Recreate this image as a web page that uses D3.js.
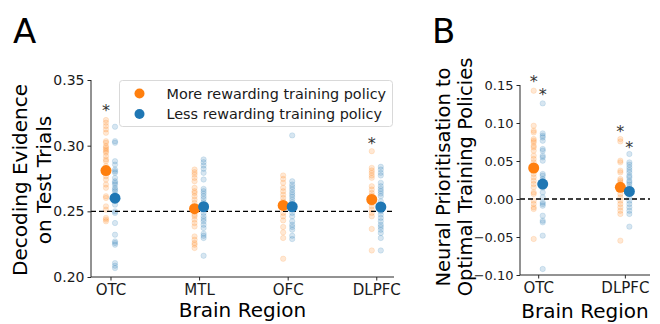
<!DOCTYPE html>
<html>
<head>
<meta charset="utf-8">
<script src="https://cdn.jsdelivr.net/npm/d3@7"></script>
<style>
    html, body { margin: 0; padding: 0; background: #fff; }
    svg { display: block; font-family: "DejaVu Sans", sans-serif; }
</style>
</head>
<body>
<svg id="chart" width="660" height="324"></svg>
<script>
(function (d3) {
    'use strict';

    // ---- panel A: decoding evidence ----
    var regionsA = ['OTC', 'MTL', 'OFC', 'DLPFC'];
    var ticksA   = [0.20, 0.25, 0.30, 0.35];
    var meanMoreA = [0.281, 0.252, 0.2545, 0.259];
    var meanLessA = [0.260, 0.2535, 0.2535, 0.2533];
    var subjMoreA = [
        [0.3195, 0.3175, 0.3149, 0.3124, 0.3098, 0.3034, 0.3022, 0.2996, 0.2984, 0.2971, 0.2958, 0.2946, 0.292, 0.2895,
         0.2882, 0.2844, 0.2767, 0.2742, 0.2704, 0.2679, 0.2615, 0.2602, 0.2538, 0.2513, 0.245, 0.2437, 0.2424],
        [0.2818, 0.2798, 0.278, 0.2755, 0.2729, 0.2679, 0.2653, 0.264, 0.2615, 0.2589, 0.2564, 0.25, 0.2475, 0.2462,
         0.2437, 0.2411, 0.2385, 0.2309, 0.2284, 0.2259, 0.2246, 0.2221],
        [0.2773, 0.2747, 0.2717, 0.2679, 0.2653, 0.2627, 0.2602, 0.2576, 0.2551, 0.2488, 0.2462, 0.2431, 0.2381, 0.234,
         0.2297, 0.2139],
        [0.2958, 0.2831, 0.2811, 0.2793, 0.2773, 0.2755, 0.2691, 0.2666, 0.264, 0.262, 0.2564, 0.2538, 0.2513, 0.2488,
         0.2462, 0.2366, 0.2202]
    ];
    var subjLessA = [
        [0.3144, 0.3034, 0.3022, 0.2882, 0.2856, 0.2818, 0.2805, 0.2793, 0.2755, 0.2729, 0.2717, 0.2704, 0.2679, 0.2666,
         0.2653, 0.2627, 0.2551, 0.25, 0.2488, 0.2411, 0.2322, 0.2271, 0.2259, 0.2246, 0.2106, 0.2086, 0.2068],
        [0.2895, 0.2874, 0.2849, 0.2824, 0.2793, 0.2742, 0.2671, 0.2653, 0.2635, 0.2615, 0.2595, 0.2569, 0.2488, 0.2462,
         0.2442, 0.2424, 0.2398, 0.2373, 0.233, 0.2314, 0.2297, 0.2162],
        [0.3078, 0.2729, 0.2704, 0.2686, 0.2666, 0.2645, 0.2627, 0.261, 0.2589, 0.2569, 0.2551, 0.2488, 0.2462, 0.2424,
         0.2398, 0.2381, 0.236, 0.2314, 0.2289],
        [0.2839, 0.2818, 0.2793, 0.2773, 0.2717, 0.2691, 0.2671, 0.2653, 0.2635, 0.2615, 0.2576, 0.25, 0.2475, 0.245,
         0.2424, 0.2398, 0.2381, 0.236, 0.2335, 0.2297, 0.2202]
    ];
    var starsA = [{ region: 0, side: -1, value: 0.330 }, { region: 3, side: -1, value: 0.3045 }];

    // ---- panel B: neural prioritisation ----
    var regionsB = ['OTC', 'DLPFC'];
    var ticksB   = [-0.10, -0.05, 0.00, 0.05, 0.10, 0.15];
    var meanMoreB = [0.0408, 0.0153];
    var meanLessB = [0.0197, 0.0100];
    var subjMoreB = [
        [0.1425, 0.0964, 0.0899, 0.0876, 0.0789, 0.0767, 0.0745, 0.0701, 0.0679, 0.0636, 0.057, 0.0526, 0.0482, 0.0329,
         0.0284, 0.0241, 0.0197, 0.0153, 0.0087, 0.0066, -0.0022, -0.0066, -0.011, -0.0132, -0.0526],
        [0.0789, 0.0758, 0.0504, 0.0482, 0.0373, 0.035, 0.0263, 0.0241, 0.0219, 0.0175, 0.0132, 0.0066, 0.0022, -0.0022,
         -0.0066, -0.011, -0.0154, -0.0197, -0.0548]
    ];
    var subjLessB = [
        [0.1258, 0.0863, 0.0833, 0.081, 0.0767, 0.0658, 0.0636, 0.057, 0.0548, 0.0504, 0.0329, 0.0307, 0.0263, 0.0241,
         0.0153, 0.0087, 0.0022, -0.0044, -0.0066, -0.0088, -0.022, -0.0285, -0.0307, -0.0482, -0.0921],
        [0.0592, 0.0482, 0.0452, 0.0416, 0.0382, 0.035, 0.0307, 0.0284, 0.0241, 0.0219, 0.0188, 0.0153, 0.0109, 0.0066,
         0.0022, -0.0022, -0.0066, -0.011, -0.0154, -0.0197, -0.0364]
    ];
    var starsB = [
        { region: 0, side: -1, value: 0.160 }, { region: 0, side: 1, value: 0.1425 },
        { region: 1, side: -1, value: 0.0942 }, { region: 1, side: 1, value: 0.0724 }
    ];

    var legendLabels = ['More rewarding training policy', 'Less rewarding training policy'];
    var colours = { more: '#ff7f0e', less: '#1f77b4' };
    var axisColour = '#262626';

    var svg = d3.select('#chart');

    /*
     * drawPanel(opts) draws one strip-plot panel with its own scales and axes.
     */
    function drawPanel(opts) {
        var x = d3.scaleLinear().domain(opts.xDomain).range([opts.left, opts.right]),
            y = d3.scaleLinear().domain(opts.yDomain).range([opts.bottom, opts.top]),
            g = svg.append('g'),
            off = opts.offset;

        function series(values, side, colour) {
            var pts = [];
            values.forEach(function (list, i) {
                list.forEach(function (v) { pts.push({ i: i, v: v }); });
            });
            g.append('g').selectAll('circle').data(pts).enter().append('circle')
                .attr('cx', function (d) { return x(d.i + side * off); })
                .attr('cy', function (d) { return y(d.v); })
                .attr('r', 2.7)
                .attr('fill', colour).attr('fill-opacity', 0.18)
                .attr('stroke', colour).attr('stroke-opacity', 0.18).attr('stroke-width', 0.8);
        }

        series(opts.more, -1, colours.more);
        series(opts.less, 1, colours.less);

        // chance / zero reference line
        g.append('line')
            .attr('x1', opts.left).attr('x2', opts.right)
            .attr('y1', y(opts.refValue)).attr('y2', y(opts.refValue))
            .attr('stroke', '#000').attr('stroke-width', 1.3).attr('stroke-dasharray', '5,3');

        function means(values, side, colour) {
            g.append('g').selectAll('circle').data(values).enter().append('circle')
                .attr('cx', function (d, i) { return x(i + side * off); })
                .attr('cy', function (d) { return y(d); })
                .attr('r', 5.5)
                .attr('fill', colour);
        }
        means(opts.meanMore, -1, colours.more);
        means(opts.meanLess, 1, colours.less);

        g.append('g').selectAll('text').data(opts.stars).enter().append('text')
            .attr('x', function (d) { return x(d.region + d.side * off); })
            .attr('y', function (d) { return y(d.value) + 9.5; })
            .attr('text-anchor', 'middle')
            .attr('font-size', 16)
            .attr('fill', '#333')
            .text('*');

        // axes
        var yAxis = d3.axisLeft(y).tickValues(opts.yTicks).tickSize(3.5).tickPadding(3)
            .tickFormat(function (d) { return d3.format('.2f')(d).replace('-', '\u2212'); });
        var gy = g.append('g').attr('transform', 'translate(' + opts.left + ',0)').call(yAxis);
        gy.select('.domain').attr('d', 'M0,' + opts.bottom + 'V' + opts.top);

        var xAxis = d3.axisBottom(x).tickValues(d3.range(opts.regions.length)).tickSize(3.5).tickPadding(4)
            .tickFormat(function (d) { return opts.regions[d]; });
        var gx = g.append('g').attr('transform', 'translate(0,' + opts.bottom + ')').call(xAxis);
        gx.select('.domain').attr('d', 'M' + opts.left + ',0H' + opts.right);

        [gx, gy].forEach(function (ax) {
            ax.selectAll('.domain').attr('stroke', axisColour).attr('stroke-width', 1);
            ax.selectAll('.tick line').attr('stroke', axisColour).attr('stroke-width', 1);
            ax.selectAll('text').attr('fill', '#1a1a1a').style('font-family', '"DejaVu Sans", sans-serif');
        });
        gy.selectAll('text').attr('font-size', opts.yTickSize);
        gx.selectAll('text').attr('font-size', 15).attr('dy', null).attr('y', 18);

        // axis titles
        g.append('text')
            .attr('x', (opts.left + opts.right) / 2).attr('y', opts.xTitleY)
            .attr('text-anchor', 'middle').attr('font-size', 20).attr('fill', '#000')
            .text('Brain Region');

        var yt = g.append('text')
            .attr('transform', 'translate(0,' + opts.yTitleCenter + ') rotate(-90)')
            .attr('text-anchor', 'middle').attr('font-size', opts.yTitleSize).attr('fill', '#000');
        opts.yTitle.forEach(function (line, i) {
            yt.append('tspan').attr('x', 0).attr('y', opts.yTitleX[i]).text(line);
        });

        g.append('text')
            .attr('x', opts.letterX).attr('y', 43)
            .attr('font-size', 34).attr('fill', '#000')
            .text(opts.letter);

        return { x: x, y: y };
    }

    drawPanel({
        letter: 'A', letterX: 13,
        regions: regionsA, xDomain: [-0.22, 3.2], yDomain: [0.20, 0.35],
        left: 91, right: 394, top: 80, bottom: 277,
        offset: 0.051, refValue: 0.25, yTicks: ticksA, yTickSize: 14,
        more: subjMoreA, less: subjLessA, meanMore: meanMoreA, meanLess: meanLessA, stars: starsA,
        xTitleY: 317,
        yTitle: ['Decoding Evidence', 'on Test Trials'], yTitleSize: 20,
        yTitleX: [27, 51], yTitleCenter: 180
    });

    drawPanel({
        letter: 'B', letterX: 432,
        regions: regionsB, xDomain: [-0.21, 1.29], yDomain: [-0.10, 0.15],
        left: 520, right: 650, top: 85, bottom: 275,
        offset: 0.052, refValue: 0, yTicks: ticksB, yTickSize: 13,
        more: subjMoreB, less: subjLessB, meanMore: meanMoreB, meanLess: meanLessB, stars: starsB,
        xTitleY: 318,
        yTitle: ['Neural Prioritisation to', 'Optimal Training Policies'], yTitleSize: 19.5,
        yTitleX: [450, 472], yTitleCenter: 177
    });

    // legend (panel A)
    var legend = svg.append('g').attr('transform', 'translate(119.5,80.5)');
    legend.append('rect')
        .attr('width', 273).attr('height', 46).attr('rx', 3)
        .attr('fill', '#fff').attr('fill-opacity', 0.8)
        .attr('stroke', '#d9d9d9').attr('stroke-width', 1);
    var items = legend.selectAll('g.item').data(legendLabels).enter().append('g')
        .attr('class', 'item')
        .attr('transform', function (d, i) { return 'translate(0,' + (13 + i * 20.5) + ')'; });
    items.append('circle')
        .attr('cx', 20).attr('cy', 0).attr('r', 5)
        .attr('fill', function (d, i) { return i === 0 ? colours.more : colours.less; });
    items.append('text')
        .attr('x', 47).attr('y', 5)
        .attr('font-size', 14.4).attr('fill', '#1a1a1a')
        .text(String);
}(window.d3));
</script>
</body>
</html>
